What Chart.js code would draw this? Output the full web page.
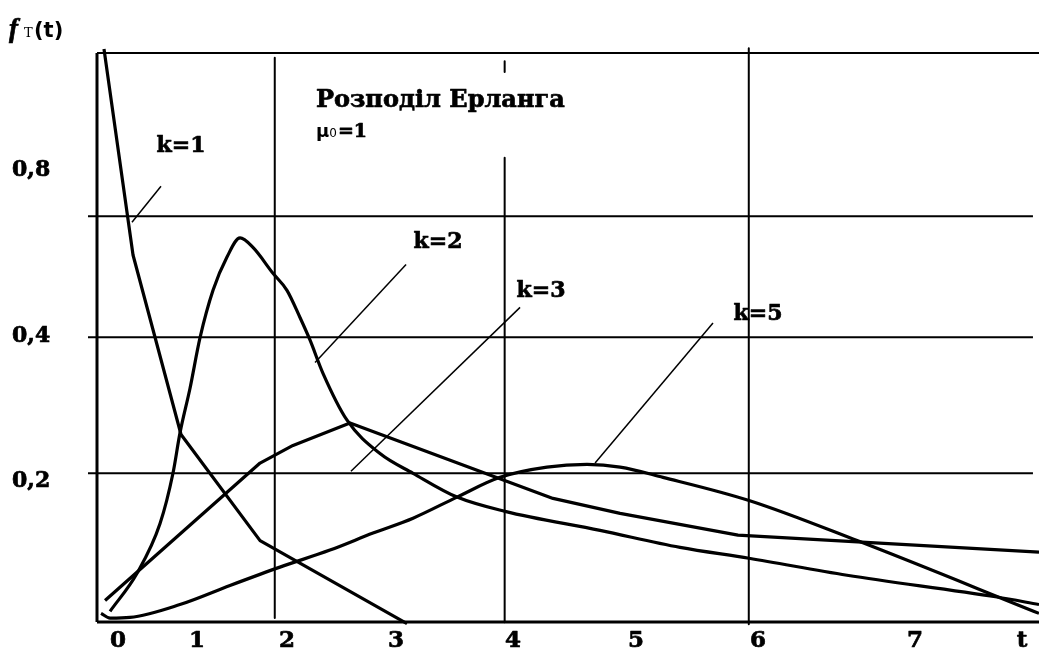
<!DOCTYPE html>
<html>
<head>
<meta charset="utf-8">
<title>Розподіл Ерланга</title>
<script src="https://cdn.jsdelivr.net/npm/chart.js@4/dist/chart.umd.min.js"></script>
<style>
  html, body { margin: 0; padding: 0; background: #fff; }
  canvas { display: block; }
</style>
</head>
<body>
<canvas id="chart" width="1039" height="652"></canvas>
<script>
// Erlang density curves, [t, f] pairs
const k1Points = [[0.559, 0.824], [0.804, 0.521], [1.209, 0.257], [1.876, 0.101], [3.116, -0.021]];
const k2Points = [
  [0.610, -0.003], [0.838, 0.053], [1.032, 0.126], [1.141, 0.200], [1.200, 0.259], [1.285, 0.325],
  [1.369, 0.399], [1.479, 0.469], [1.597, 0.518], [1.707, 0.546], [1.816, 0.532], [1.985, 0.494],
  [2.103, 0.469], [2.213, 0.429], [2.297, 0.396], [2.407, 0.347], [2.610, 0.278], [2.888, 0.229],
  [3.167, 0.200], [3.538, 0.165], [3.943, 0.144], [4.745, 0.116], [5.420, 0.091], [6.002, 0.075],
  [6.829, 0.050], [8.095, 0.018], [8.449, 0.007]
];
const k3Points = [
  [0.568, 0.013], [1.876, 0.215], [2.154, 0.241], [2.635, 0.274], [4.348, 0.163],
  [4.914, 0.141], [5.909, 0.109], [8.449, 0.084]
];
const k5Points = [
  [0.534, -0.006], [0.610, -0.013], [0.778, -0.012], [1.200, 0.007], [1.622, 0.035], [2.044, 0.062],
  [2.466, 0.087], [2.829, 0.112], [3.167, 0.134], [3.538, 0.165], [3.901, 0.194], [4.297, 0.209],
  [4.635, 0.213], [4.914, 0.209], [5.276, 0.194], [6.002, 0.160], [6.914, 0.101], [8.449, -0.006]
];

// Leader lines from the k labels to their curves
const leaders = [
  [[0.795, 0.569], [1.040, 0.622]],
  [[2.340, 0.363], [3.108, 0.507]],
  [[2.643, 0.203], [4.070, 0.444]],
  [[4.703, 0.215], [5.698, 0.421]]
];

// Tick labels
const xTickValues = [0.677, 1.344, 2.103, 3.023, 4.010, 5.049, 6.078, 7.403, 8.306];
const xTickLabels = ['0', '1', '2', '3', '4', '5', '6', '7', 't'];
const yTickValues = [0.188, 0.401, 0.646];
const yTickLabels = ['0,2', '0,4', '0,8'];

// Grid: vertical lines [t, fFrom, fTo], horizontal lines [f, tFrom, tTo]
const gridVertical = [[2, 0.811, -0.013], [3.94, 0.806, 0.790], [3.94, 0.664, -0.019], [6, 0.825, -0.022]];
const gridHorizontal = [[0.2, 0.424, 8.398], [0.4, 0.424, 8.398], [0.578, 0.424, 8.398]];

const tMin = 0.5, tMax = 8.449;
const fMin = -0.0187, fMax = 0.818;

// k labels placed next to the curves
const notes = [
  { text: 'k=1', t: 1.209, f: 0.681 },
  { text: 'k=2', t: 3.378, f: 0.540 },
  { text: 'k=3', t: 4.247, f: 0.468 },
  { text: 'k=5', t: 6.078, f: 0.434 }
];

const serif = '"DejaVu Serif"';

function line(points, width, smooth) {
  return {
    data: points.map(p => ({ x: p[0], y: p[1] })),
    borderColor: '#000',
    borderWidth: width,
    pointRadius: 0,
    fill: false,
    clip: false,
    tension: 0,
    cubicInterpolationMode: smooth ? 'monotone' : 'default',
    borderCapStyle: 'butt',
    borderJoinStyle: 'round'
  };
}

const datasets = [];

// Frame: left side, top, and the t axis
datasets.push(line([[tMin, fMin], [tMin, fMax]], 3));
datasets.push(line([[tMin, fMax], [tMax, fMax]], 2));
datasets.push(line([[tMin, fMin], [tMax, fMin]], 3));

gridVertical.forEach(g => datasets.push(line([[g[0], g[1]], [g[0], g[2]]], 2)));
gridHorizontal.forEach(g => datasets.push(line([[g[1], g[0]], [g[2], g[0]]], 2)));
leaders.forEach(l => datasets.push(line(l, 1.5)));

datasets.push(line(k1Points, 3.2));
datasets.push(line(k2Points, 3.2, true));
datasets.push(line(k3Points, 3.2));
datasets.push(line(k5Points, 3.2, true));

// fill + thin stroke, the bold serif is a bit light otherwise
function heavyText(ctx, text, x, y) {
  ctx.fillText(text, x, y);
  ctx.strokeText(text, x, y);
}

// Draws tick labels, axis name, title and curve labels
const textPlugin = {
  id: 'texts',
  beforeDatasetsDraw(chart) {
    const ctx = chart.ctx;
    const xs = chart.scales.x;
    const ys = chart.scales.y;
    const area = chart.chartArea;
    ctx.save();
    ctx.fillStyle = '#000';
    ctx.strokeStyle = '#000';
    ctx.lineWidth = 0.7;
    ctx.lineJoin = 'round';

    // t axis
    ctx.font = 'bold 23px ' + serif;
    ctx.textAlign = 'center';
    ctx.textBaseline = 'middle';
    xTickValues.forEach((v, i) => heavyText(ctx, xTickLabels[i], xs.getPixelForValue(v), area.bottom + 19));

    // f axis
    ctx.font = 'bold 22px ' + serif;
    ctx.textAlign = 'left';
    yTickValues.forEach((v, i) => heavyText(ctx, yTickLabels[i], 12, ys.getPixelForValue(v)));

    // f_T(t)
    ctx.textBaseline = 'alphabetic';
    ctx.font = 'bold italic 27px "Liberation Serif"';
    heavyText(ctx, 'f', 9, 37);
    ctx.font = '13px ' + serif;
    ctx.fillText('T', 24, 37);
    ctx.font = 'bold 21px "DejaVu Sans"';
    ctx.fillText('(t)', 34, 37);

    // title
    const tx = xs.getPixelForValue(2.348);
    ctx.font = 'bold 24px ' + serif;
    heavyText(ctx, 'Розподіл Ерланга', tx, ys.getPixelForValue(0.738));
    const by = ys.getPixelForValue(0.694);
    let x = tx;
    ctx.font = 'bold 18px "DejaVu Sans"';
    ctx.fillText('μ', x, by);
    x += ctx.measureText('μ').width;
    ctx.font = '12px "DejaVu Sans"';
    ctx.fillText('0', x, by);
    x += ctx.measureText('0').width + 1;
    ctx.font = 'bold 19px ' + serif;
    heavyText(ctx, '=1', x, by);

    // curve labels
    ctx.font = 'bold 22px ' + serif;
    ctx.textAlign = 'center';
    ctx.textBaseline = 'middle';
    notes.forEach(n => heavyText(ctx, n.text, xs.getPixelForValue(n.t), ys.getPixelForValue(n.f)));

    ctx.restore();
  }
};

new Chart(document.getElementById('chart'), {
  type: 'line',
  data: { datasets: datasets },
  options: {
    responsive: false,
    animation: false,
    events: [],
    layout: { padding: { left: 97, right: 0, top: 53, bottom: 30 } },
    plugins: { legend: { display: false }, tooltip: { enabled: false } },
    scales: {
      x: { type: 'linear', min: tMin, max: tMax, display: false },
      y: { type: 'linear', min: fMin, max: fMax, display: false }
    }
  },
  plugins: [textPlugin]
});
</script>
</body>
</html>
